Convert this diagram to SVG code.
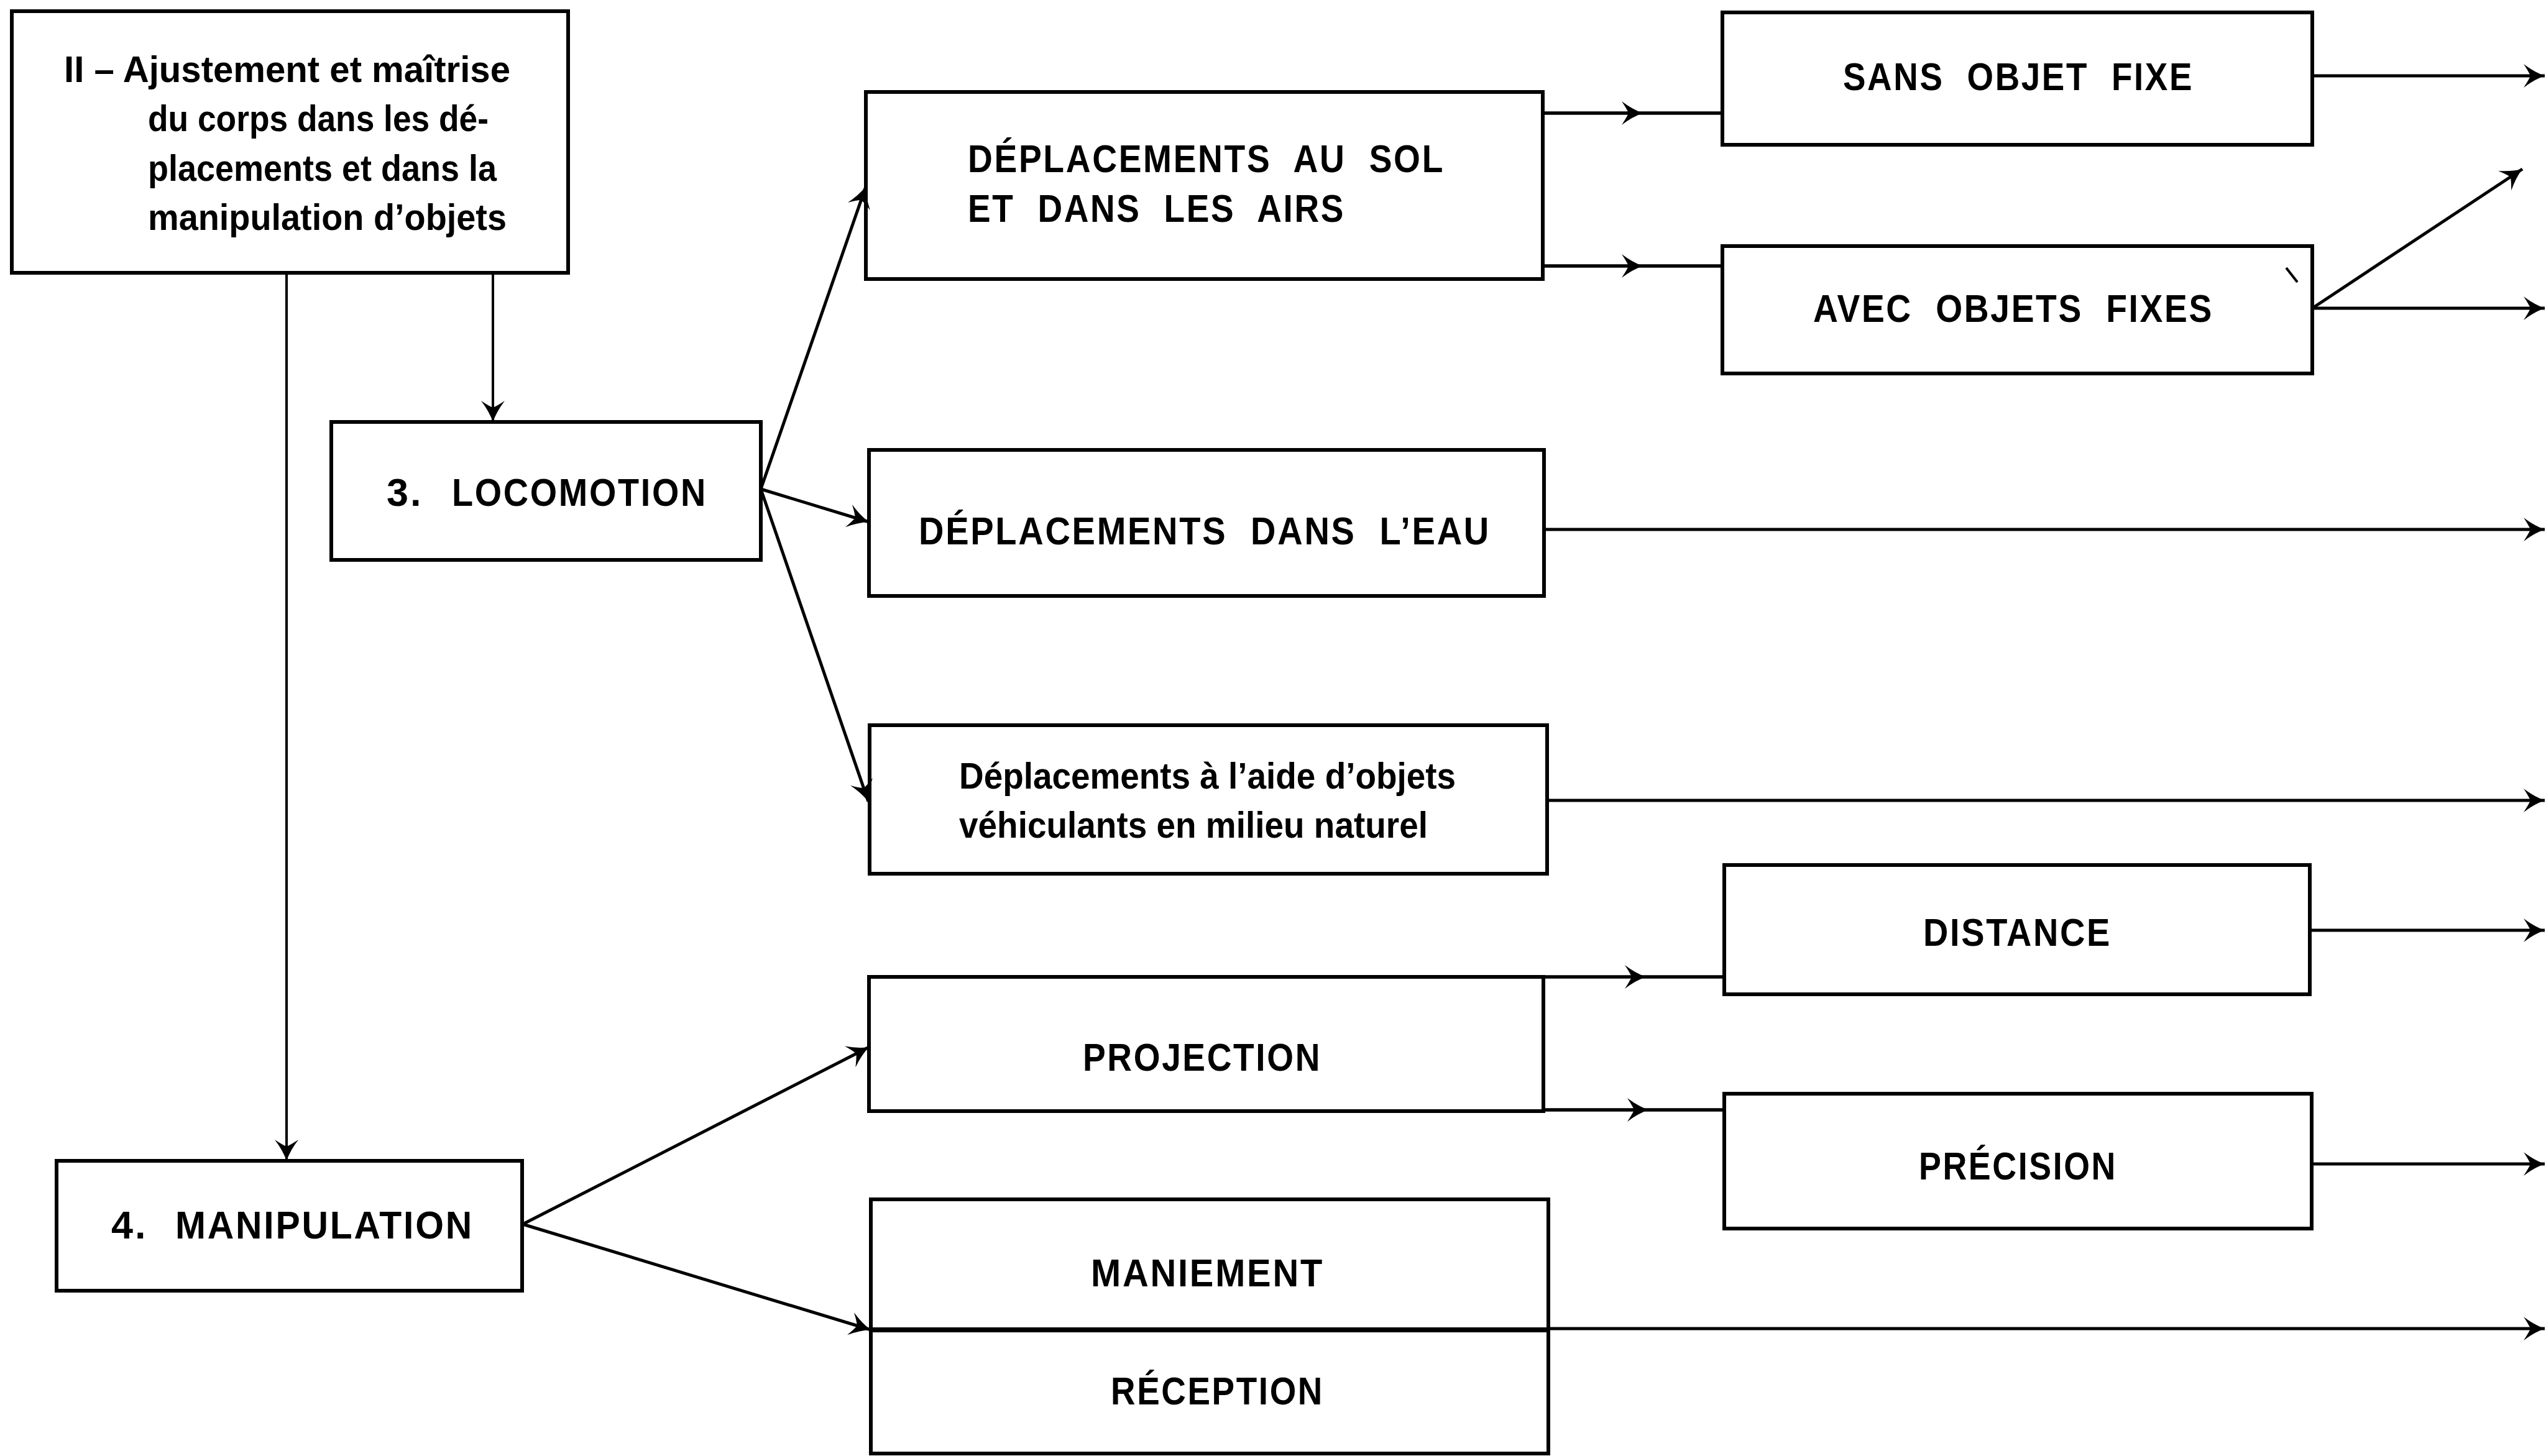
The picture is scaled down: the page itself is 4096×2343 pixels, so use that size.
<svg xmlns="http://www.w3.org/2000/svg" width="4096" height="2343" viewBox="0 0 4096 2343">
  <defs>
    <!-- barbed arrowhead, tip at the end of the line -->
    <marker id="arrow" markerUnits="userSpaceOnUse" viewBox="-38 -22 40 44" markerWidth="40" markerHeight="44" refX="0" refY="0" orient="auto">
      <path d="M0,0 Q-17,-6 -34,-19 Q-26,-7 -23,0 Q-26,7 -34,19 Q-17,6 0,0 Z" fill="#000"/>
    </marker>
  </defs>
  <style>
    .box { fill: #fff; stroke: #000; stroke-width: 6; }
    .split { stroke: #000; stroke-width: 8; }
    .wire { fill: none; stroke: #000; stroke-width: 5; marker-end: url(#arrow); }
    .thru { fill: none; stroke: #000; stroke-width: 5.5; marker-mid: url(#arrow); }
    .thin { stroke-width: 4; }
    text { font-family: "Liberation Sans", Arial, sans-serif; font-weight: bold; fill: #000; }
    .cap { font-size: 63px; letter-spacing: 3px; }
    .spaced { word-spacing: 22px; }
    .low { font-size: 60px; }
  </style>

  <rect width="4096" height="2343" fill="#fff"/>

  <!-- nodes -->
  <g id="node-ajustement">
    <rect class="box" x="19" y="18" width="895" height="421"/>
    <text class="low" x="103" y="132" textLength="718" lengthAdjust="spacingAndGlyphs">II – Ajustement et maîtrise</text>
    <text class="low" x="238" y="211" textLength="548" lengthAdjust="spacingAndGlyphs">du corps dans les dé-</text>
    <text class="low" x="238" y="291" textLength="561" lengthAdjust="spacingAndGlyphs">placements et dans la</text>
    <text class="low" x="238" y="370" textLength="577" lengthAdjust="spacingAndGlyphs">manipulation d’objets</text>
  </g>

  <g id="node-locomotion">
    <rect class="box" x="533" y="679" width="691" height="222"/>
    <text class="cap" y="814"><tspan x="622">3.</tspan><tspan x="727" textLength="411" lengthAdjust="spacingAndGlyphs">LOCOMOTION</tspan></text>
  </g>

  <g id="node-sol-airs">
    <rect class="box" x="1393" y="148" width="1089" height="301"/>
    <text class="cap spaced" x="1557" y="277" textLength="767" lengthAdjust="spacingAndGlyphs">DÉPLACEMENTS AU SOL</text>
    <text class="cap spaced" x="1557" y="357" textLength="607" lengthAdjust="spacingAndGlyphs">ET DANS LES AIRS</text>
  </g>

  <g id="node-sans-objet">
    <rect class="box" x="2771" y="20" width="949" height="213"/>
    <text class="cap spaced" x="2965" y="145" textLength="564" lengthAdjust="spacingAndGlyphs">SANS OBJET FIXE</text>
  </g>

  <g id="node-avec-objets">
    <rect class="box" x="2771" y="396" width="949" height="205"/>
    <text class="cap spaced" x="2917" y="518" textLength="644" lengthAdjust="spacingAndGlyphs">AVEC OBJETS FIXES</text>
    <line x1="3678" y1="431" x2="3696" y2="454" stroke="#000" stroke-width="4"/>
  </g>

  <g id="node-eau">
    <rect class="box" x="1398" y="724" width="1086" height="235"/>
    <text class="cap spaced" x="1478" y="876" textLength="920" lengthAdjust="spacingAndGlyphs">DÉPLACEMENTS DANS L’EAU</text>
  </g>

  <g id="node-vehiculants">
    <rect class="box" x="1399" y="1167" width="1090" height="239"/>
    <text class="low" x="1543" y="1269" textLength="799" lengthAdjust="spacingAndGlyphs">Déplacements à l’aide d’objets</text>
    <text class="low" x="1543" y="1348" textLength="754" lengthAdjust="spacingAndGlyphs">véhiculants en milieu naturel</text>
  </g>

  <g id="node-distance">
    <rect class="box" x="2774" y="1392" width="942" height="208"/>
    <text class="cap" x="3094" y="1522" textLength="303" lengthAdjust="spacingAndGlyphs">DISTANCE</text>
  </g>

  <g id="node-projection">
    <rect class="box" x="1398" y="1572" width="1085" height="216"/>
    <text class="cap" x="1742" y="1723" textLength="384" lengthAdjust="spacingAndGlyphs">PROJECTION</text>
  </g>

  <g id="node-precision">
    <rect class="box" x="2774" y="1760" width="945" height="217"/>
    <text class="cap" x="3087" y="1898" textLength="319" lengthAdjust="spacingAndGlyphs">PRÉCISION</text>
  </g>

  <g id="node-manipulation">
    <rect class="box" x="91" y="1868" width="749" height="209"/>
    <text class="cap" y="1993"><tspan x="179">4.</tspan><tspan x="282" textLength="480" lengthAdjust="spacingAndGlyphs">MANIPULATION</tspan></text>
  </g>

  <g id="node-maniement-reception">
    <rect class="box" x="1401" y="1930" width="1090" height="409"/>
    <line class="split" x1="1401" y1="2140" x2="2491" y2="2140"/>
    <text class="cap" x="1755" y="2070" textLength="375" lengthAdjust="spacingAndGlyphs">MANIEMENT</text>
    <text class="cap" x="1787" y="2260" textLength="343" lengthAdjust="spacingAndGlyphs">RÉCEPTION</text>
  </g>

  <!-- connectors -->
  <g id="connectors">
    <path class="wire thin" d="M793,439 V679"/>
    <path class="wire thin" d="M461,439 V1868"/>

    <path class="wire" d="M1224,787 L1393,300"/>
    <path class="wire" d="M1224,787 L1398,840"/>
    <path class="wire" d="M1224,787 L1397,1290"/>

    <path class="thru" d="M2482,182 H2643 H2771"/>
    <path class="thru" d="M2482,428 H2643 H2771"/>

    <path class="wire" d="M3720,122 H4094"/>
    <path class="wire" d="M3720,496 H4094"/>
    <path class="wire" d="M3720,496 L4058,272"/>

    <path class="wire" d="M2484,852 H4094"/>
    <path class="wire" d="M2489,1288 H4094"/>

    <path class="thru" d="M2483,1572 H2648 H2774"/>
    <path class="thru" d="M2483,1786 H2652 H2774"/>

    <path class="wire" d="M3716,1497 H4094"/>
    <path class="wire" d="M3719,1873 H4094"/>

    <path class="wire" d="M841,1970 L1398,1685"/>
    <path class="wire" d="M841,1970 L1401,2140"/>
    <path class="wire" d="M2491,2138 H4094"/>
  </g>
</svg>
